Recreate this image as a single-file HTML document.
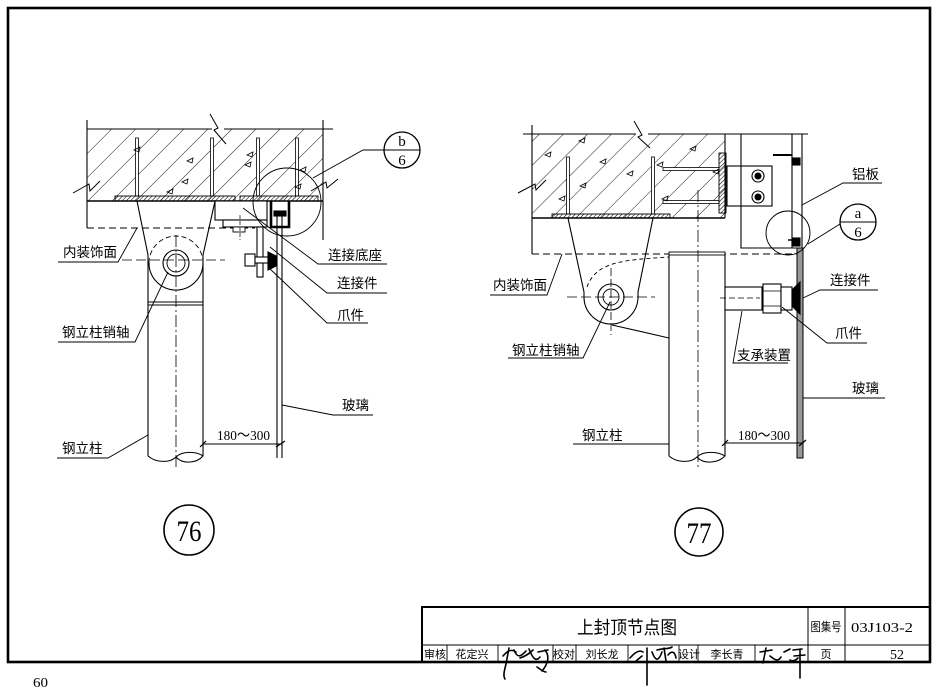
<!DOCTYPE html>
<html><head><meta charset="utf-8"><style>
html,body{margin:0;padding:0;background:#fff;}
svg{display:block;}
.c{font-family:"Liberation Sans","Noto Sans CJK SC",sans-serif;font-size:13.5px;fill:#000;}
.s{font-family:"Liberation Serif",serif;fill:#000;}
</style></head><body>
<svg width="935" height="689" viewBox="0 0 935 689" xmlns="http://www.w3.org/2000/svg">
<defs>
<pattern id="hat" width="17" height="17" patternUnits="userSpaceOnUse" patternTransform="rotate(45)"><line x1="0" y1="0" x2="0" y2="17" stroke="#000" stroke-width="0.9"/></pattern>
<pattern id="fine" width="3" height="3" patternUnits="userSpaceOnUse" patternTransform="rotate(45)"><line x1="0" y1="0" x2="0" y2="3" stroke="#000" stroke-width="1.1"/></pattern>
</defs>
<rect width="935" height="689" fill="#fff"/>
<!-- Frame -->
<rect x="8" y="8" width="922" height="654" fill="none" stroke="#000" stroke-width="2.6"/>

<!-- ================= 76 ================= -->
<g stroke="#000" fill="none" stroke-width="1.1">
<rect x="87" y="129" width="236" height="72" fill="url(#hat)" stroke="none"/>
<line x1="87" y1="129" x2="212" y2="129"/>
<line x1="224" y1="129" x2="333" y2="129"/>
<polyline points="210,114 218,128 214,130 226,144" stroke-width="1"/>
<line x1="87" y1="120" x2="87" y2="228"/>
<line x1="323" y1="120" x2="323" y2="240"/>
<line x1="87" y1="201" x2="323" y2="201" stroke-width="1.6"/>
<polyline points="73,193 89,184 90,191 100,181" stroke-width="1"/>
<polyline points="311,191 326,182 327,188 338,179" stroke-width="1"/>
<!-- rebars -->
<rect x="135.5" y="138" width="3" height="58" fill="#fff" stroke-width="0.8"/>
<rect x="210.5" y="138" width="3" height="58" fill="#fff" stroke-width="0.8"/>
<rect x="256.5" y="138" width="3" height="58" fill="#fff" stroke-width="0.8"/>
<rect x="295.5" y="138" width="3" height="58" fill="#fff" stroke-width="0.8"/>
<!-- triangles -->
<g stroke-width="0.8">
<path d="M134,150 l6,-3 l-1,5 z"/><path d="M187,161 l6,-3 l-1,5 z"/><path d="M247,155 l6,-3 l-1,5 z"/>
<path d="M245,165 l6,-3 l-1,5 z"/><path d="M182,182 l6,-3 l-1,5 z"/><path d="M167,192 l6,-3 l-1,5 z"/>
<path d="M300,170 l6,-3 l-1,5 z"/><path d="M295,187 l6,-3 l-1,5 z"/>
</g>
<!-- plates -->
<rect x="115" y="196" width="120" height="5" fill="url(#fine)" stroke-width="0.9"/>
<rect x="240" y="196" width="78" height="5" fill="url(#fine)" stroke-width="0.9"/>
<!-- dashed interior finish -->
<line x1="87" y1="228" x2="255" y2="228" stroke-dasharray="7,4" stroke-width="0.9"/>
<!-- bracket & lug -->
<line x1="137" y1="201" x2="148" y2="255"/>
<line x1="215" y1="201" x2="203" y2="255"/>
<path d="M149,263 A27,27 0 0 0 203,263"/>
<path d="M149,263 A27,27 0 0 1 203,263" stroke-dasharray="5,3" stroke-width="0.9"/>
<circle cx="176" cy="263" r="13"/>
<circle cx="176" cy="263" r="9" stroke-width="0.9"/>
<line x1="122" y1="260" x2="225" y2="260" stroke-dasharray="10,4" stroke-width="0.8"/>
<!-- column -->
<line x1="148" y1="255" x2="148" y2="456"/>
<line x1="203" y1="255" x2="203" y2="456"/>
<line x1="148" y1="302" x2="203" y2="302" stroke-width="0.9"/>
<line x1="148" y1="305" x2="203" y2="305" stroke-width="0.9"/>
<path d="M148,456 C156,463 170,463 176,457 C182,451 196,451 203,456"/>
<path d="M176,457 C182,464 196,464 203,456"/>
<line x1="176" y1="235" x2="176" y2="470" stroke-dasharray="12,3,2,3" stroke-width="0.8"/>
<!-- connection base -->
<rect x="215" y="201" width="52" height="19" fill="#fff"/>
<rect x="223" y="220" width="44" height="7" fill="#fff"/>
<rect x="233" y="227" width="12" height="5" fill="#fff" stroke-width="0.9"/>
<line x1="240" y1="215" x2="240" y2="240" stroke-dasharray="4,2" stroke-width="0.7"/>
<!-- U channel -->
<path d="M271,201 V227 H289 V201" stroke-width="2.6"/>
<rect x="274" y="211" width="12" height="5" fill="#000"/>
<!-- glass -->
<line x1="277" y1="212" x2="277" y2="458"/>
<line x1="282" y1="212" x2="282" y2="458"/>
<!-- arm & bolt -->
<rect x="257" y="227" width="6" height="50" fill="#fff"/>
<rect x="245" y="254" width="10" height="12" fill="#fff"/>
<rect x="255" y="257" width="14" height="6" fill="#fff"/>
<path d="M268,252 L276,256 L276,266 L268,270 Z" fill="#000"/>
<!-- detail circles -->
<circle cx="287" cy="202" r="34" stroke-width="0.9"/>
<circle cx="402" cy="150" r="18" stroke-width="1.3"/>
<line x1="384" y1="150" x2="420" y2="150" stroke-width="0.9"/>
<polyline points="384,150 363,150 313,178" stroke-width="0.9"/>
<!-- dimension -->
<line x1="203" y1="444" x2="282" y2="444" stroke-width="0.9"/>
<line x1="200" y1="447" x2="206" y2="441" stroke-width="1.2"/>
<line x1="276" y1="447" x2="285" y2="441" stroke-width="1.2"/>
<!-- leaders -->
<g stroke-width="0.9">
<polyline points="58,262 118,262 137,228"/>
<polyline points="58,342 135,342 168,272"/>
<polyline points="57,458 108,458 148,435"/>
<polyline points="387,264 318,264 243,208"/>
<polyline points="387,293 327,293 270,247"/>
<polyline points="368,323 327,323 268,267"/>
<polyline points="373,415 333,415 282,405"/>
</g>
</g>
<text class="s" x="402" y="146" font-size="15" text-anchor="middle">b</text>
<text class="s" x="402" y="165" font-size="15" text-anchor="middle">6</text>
<text class="s" x="217" y="440" font-size="14" textLength="53" lengthAdjust="spacingAndGlyphs">180～300</text>
<text class="c" x="63" y="257">内装饰面</text>
<text class="c" x="62" y="337">钢立柱销轴</text>
<text class="c" x="62" y="453">钢立柱</text>
<text class="c" x="328" y="260">连接底座</text>
<text class="c" x="337" y="288">连接件</text>
<text class="c" x="337" y="320">爪件</text>
<text class="c" x="342" y="410">玻璃</text>
<circle cx="189" cy="530" r="25" fill="none" stroke="#000" stroke-width="1.6"/>
<text class="s" x="189" y="541" font-size="30" text-anchor="middle" textLength="25" lengthAdjust="spacingAndGlyphs">76</text>

<!-- ================= 77 ================= -->
<g stroke="#000" fill="none" stroke-width="1.1">
<rect x="532" y="134" width="193" height="84" fill="url(#hat)" stroke="none"/>
<line x1="523" y1="134" x2="636" y2="134"/>
<line x1="648" y1="134" x2="808" y2="134"/>
<polyline points="634,121 642,135 638,137 650,148" stroke-width="1"/>
<line x1="532" y1="125" x2="532" y2="254"/>
<line x1="725" y1="134" x2="725" y2="218"/>
<line x1="532" y1="218" x2="725" y2="218" stroke-width="1.5"/>
<polyline points="518,193 535,184 536,190 546,180" stroke-width="1"/>
<rect x="566.5" y="157" width="3" height="57" fill="#fff" stroke-width="0.8"/>
<rect x="651.5" y="157" width="3" height="57" fill="#fff" stroke-width="0.8"/>
<rect x="663" y="167.5" width="56" height="3" fill="#fff" stroke-width="0.8"/>
<rect x="663" y="200.5" width="56" height="3" fill="#fff" stroke-width="0.8"/>
<g stroke-width="0.8">
<path d="M579,141 l6,-3 l-1,5 z"/><path d="M545,155 l6,-3 l-1,5 z"/><path d="M600,162 l6,-3 l-1,5 z"/>
<path d="M627,174 l6,-3 l-1,5 z"/><path d="M690,149 l6,-3 l-1,5 z"/><path d="M657,165 l6,-3 l-1,5 z"/>
<path d="M580,186 l6,-3 l-1,5 z"/><path d="M559,199 l6,-3 l-1,5 z"/><path d="M662,199 l6,-3 l-1,5 z"/>
<path d="M713,172 l6,-3 l-1,5 z"/>
</g>
<rect x="552" y="214" width="118" height="4" fill="url(#fine)" stroke-width="0.9"/>
<rect x="719" y="153" width="7" height="60" fill="url(#fine)" stroke-width="0.9"/>
<!-- bolt box -->
<rect x="727" y="166" width="45" height="40" fill="#fff"/>
<circle cx="758" cy="176" r="6"/><circle cx="758" cy="176" r="3" fill="#000"/>
<circle cx="758" cy="197" r="6"/><circle cx="758" cy="197" r="3" fill="#000"/>
<!-- aluminium frame -->
<polyline points="741,134 741,248 797,248"/>
<line x1="792" y1="134" x2="792" y2="248"/>
<line x1="802" y1="134" x2="802" y2="458"/>
<polyline points="773,155 792,155" stroke-width="2"/>
<rect x="792" y="158" width="8" height="7" fill="#000"/>
<rect x="792" y="238" width="8" height="8" fill="#000"/>
<line x1="788" y1="240" x2="794" y2="240" stroke-width="1.5"/>
<!-- glass -->
<rect x="797" y="248" width="6" height="210" fill="#999" stroke-width="1"/>
<!-- dashed finish -->
<line x1="532" y1="254" x2="797" y2="254" stroke-dasharray="7,4" stroke-width="0.9"/>
<!-- bracket & lug -->
<line x1="568" y1="218" x2="584" y2="292"/>
<line x1="653" y1="218" x2="638" y2="292"/>
<path d="M584,297 A27,27 0 0 0 638,297"/>
<line x1="584" y1="292" x2="584" y2="297"/>
<line x1="638" y1="292" x2="638" y2="297"/>
<circle cx="611" cy="297" r="13"/>
<circle cx="611" cy="297" r="8" stroke-width="0.9"/>
<line x1="567" y1="297" x2="655" y2="297" stroke-dasharray="10,4" stroke-width="0.8"/>
<line x1="611" y1="268" x2="611" y2="335" stroke-dasharray="8,3" stroke-width="0.8"/>
<path d="M587,287 C596,262 622,260 669,257" stroke-dasharray="4,3" stroke-width="0.9"/>
<line x1="612" y1="325" x2="669" y2="338"/>
<!-- column -->
<rect x="669" y="252" width="56" height="3" fill="#fff" stroke-width="0.9"/>
<line x1="669" y1="255" x2="669" y2="456"/>
<line x1="725" y1="255" x2="725" y2="456"/>
<path d="M669,456 C677,463 691,463 697,457 C703,451 717,451 725,456"/>
<path d="M697,457 C703,464 717,464 725,456"/>
<line x1="698" y1="190" x2="698" y2="468" stroke-dasharray="12,3,2,3" stroke-width="0.8"/>
<!-- support device -->
<rect x="725" y="287" width="37" height="23" fill="#fff"/>
<line x1="720" y1="298" x2="760" y2="298" stroke-dasharray="6,3" stroke-width="0.7"/>
<rect x="763" y="284" width="18" height="29" fill="#fff"/>
<line x1="763" y1="291" x2="781" y2="291" stroke-width="0.8"/>
<line x1="763" y1="306" x2="781" y2="306" stroke-width="0.8"/>
<rect x="781" y="287" width="11" height="23" fill="#fff"/>
<path d="M792,290 L800,282 L800,314 L792,306 Z" fill="#000"/>
<!-- detail circles -->
<circle cx="788" cy="233" r="22" stroke-width="0.9"/>
<circle cx="858" cy="222" r="18" stroke-width="1.3"/>
<line x1="840" y1="222" x2="876" y2="222" stroke-width="0.9"/>
<line x1="840" y1="224" x2="808" y2="244" stroke-width="0.9"/>
<!-- dimension -->
<line x1="725" y1="443" x2="803" y2="443" stroke-width="0.9"/>
<line x1="722" y1="446" x2="728" y2="440" stroke-width="1.2"/>
<line x1="799" y1="446" x2="806" y2="440" stroke-width="1.2"/>
<!-- leaders -->
<g stroke-width="0.9">
<polyline points="490,295 547,295 562,254"/>
<polyline points="508,358 583,358 610,302"/>
<line x1="573" y1="444" x2="669" y2="444"/>
<polyline points="788,363 733,363 742,311"/>
<polyline points="882,183 843,183 802,205"/>
<polyline points="878,290 820,290 803,298"/>
<polyline points="867,343 827,343 782,307"/>
<line x1="803" y1="398" x2="885" y2="398"/>
</g>
</g>
<text class="s" x="858" y="218" font-size="15" text-anchor="middle">a</text>
<text class="s" x="858" y="237" font-size="15" text-anchor="middle">6</text>
<text class="s" x="738" y="440" font-size="14" textLength="52" lengthAdjust="spacingAndGlyphs">180～300</text>
<text class="c" x="493" y="290">内装饰面</text>
<text class="c" x="512" y="355">钢立柱销轴</text>
<text class="c" x="582" y="440">钢立柱</text>
<text class="c" x="737" y="360">支承装置</text>
<text class="c" x="852" y="179">铝板</text>
<text class="c" x="830" y="285">连接件</text>
<text class="c" x="835" y="338">爪件</text>
<text class="c" x="852" y="393">玻璃</text>
<circle cx="699" cy="532" r="24" fill="none" stroke="#000" stroke-width="1.6"/>
<text class="s" x="699" y="543" font-size="30" text-anchor="middle" textLength="25" lengthAdjust="spacingAndGlyphs">77</text>

<!-- ================= Title block ================= -->
<g stroke="#000" fill="none">
<rect x="422" y="607" width="508" height="55" stroke-width="2"/>
<line x1="422" y1="645" x2="930" y2="645" stroke-width="1"/>
<line x1="808" y1="607" x2="808" y2="662" stroke-width="1"/>
<line x1="845" y1="607" x2="845" y2="662" stroke-width="1"/>
<g stroke-width="0.9">
<line x1="447" y1="645" x2="447" y2="662"/>
<line x1="498" y1="645" x2="498" y2="662"/>
<line x1="553" y1="645" x2="553" y2="662"/>
<line x1="576" y1="645" x2="576" y2="662"/>
<line x1="628" y1="645" x2="628" y2="662"/>
<line x1="679" y1="645" x2="679" y2="662"/>
<line x1="698" y1="645" x2="698" y2="662"/>
<line x1="755" y1="645" x2="755" y2="662"/>
</g>
<!-- signatures -->
<g stroke-width="1.6" stroke-linecap="round">
<path d="M503,656 C508,650 512,649 516,652 M509,648 L506,664 C504,672 503,676 505,679 M514,650 C518,660 522,655 526,651 M520,658 C526,656 531,652 533,650 M529,649 C533,659 536,662 540,657 M538,652 L548,650 M545,650 C550,656 548,664 542,671 M537,667 C541,670 544,672 546,672"/>
<path d="M630,658 C636,651 640,650 643,652 M636,661 L642,656 M647,648 L647,685 M652,652 C655,660 658,663 662,652 M657,650 C665,648 670,649 672,647 M664,648 L666,661 M668,655 C672,650 675,652 676,658"/>
<path d="M760,652 L772,650 M766,648 L763,663 M770,656 C775,660 778,662 781,657 M784,652 L790,649 M793,650 L802,649 M800,649 L800,678 M794,656 L805,655 M790,660 C793,662 796,660 798,658"/>
</g>
</g>
<g class="c">
<text x="627" y="634" font-size="18" text-anchor="middle" textLength="100" lengthAdjust="spacingAndGlyphs">上封顶节点图</text>
<text x="826" y="631" font-size="12" text-anchor="middle" textLength="31" lengthAdjust="spacingAndGlyphs">图集号</text>
<text class="s" x="882" y="632" font-size="14" text-anchor="middle" textLength="62" lengthAdjust="spacingAndGlyphs">03J103-2</text>
<text x="435" y="658" font-size="11" text-anchor="middle">审核</text>
<text x="472" y="658" font-size="11" text-anchor="middle">花定兴</text>
<text x="564" y="658" font-size="11" text-anchor="middle">校对</text>
<text x="602" y="658" font-size="11" text-anchor="middle">刘长龙</text>
<text x="689" y="658" font-size="11" text-anchor="middle">设计</text>
<text x="727" y="658" font-size="11" text-anchor="middle">李长青</text>
<text x="826" y="658" font-size="11" text-anchor="middle">页</text>
<text class="s" x="897" y="659" font-size="14" text-anchor="middle" textLength="14" lengthAdjust="spacingAndGlyphs">52</text>
</g>
<text class="s" x="33" y="687" font-size="14" textLength="15" lengthAdjust="spacingAndGlyphs">60</text>
</svg>
</body></html>
